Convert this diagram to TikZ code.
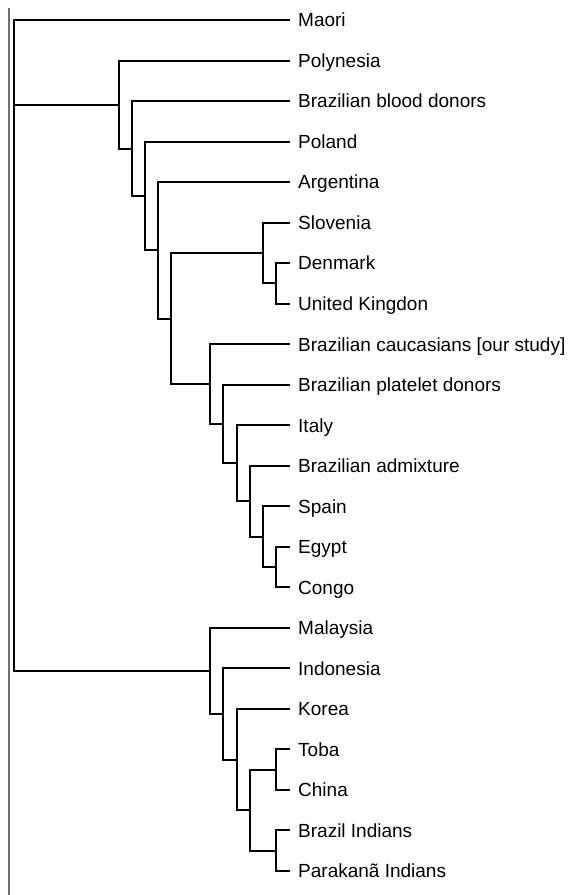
\documentclass[tikz,border=0pt]{standalone}
\usepackage{fontspec}
\setmainfont{Liberation Sans}
\begin{document}
\begin{tikzpicture}[x=1pt,y=-1pt,
  leaf/.style={anchor=west,inner xsep=8pt,inner ysep=0pt,text height=13.6pt,text depth=0pt,font=\fontsize{19}{22}\selectfont},
  branch/.style={draw=black,line width=2pt,line join=miter},
  frame/.style={draw={rgb,255:red,112;green,112;blue,112},line width=2pt}]
\useasboundingbox (0,0) rectangle (570,895);
% left rule
\coordinate (ruletop) at (9,8);
\coordinate (rulebot) at (9,895);
\draw[frame] (ruletop) -- (rulebot);
% leaves
\node[leaf] (maori) at (290,20) {Maori};
\node[leaf] (poly) at (290,60.5) {Polynesia};
\node[leaf] (bbd) at (290,101) {Brazilian blood donors};
\node[leaf] (poland) at (290,141.6) {Poland};
\node[leaf] (arg) at (290,182.1) {Argentina};
\node[leaf] (slo) at (290,222.6) {Slovenia};
\node[leaf] (den) at (290,263.1) {Denmark};
\node[leaf] (uk) at (290,303.6) {United Kingdon};
\node[leaf] (bc) at (290,344.2) {Brazilian caucasians [our study]};
\node[leaf] (bpd) at (290,384.7) {Brazilian platelet donors};
\node[leaf] (italy) at (290,425.2) {Italy};
\node[leaf] (ba) at (290,465.7) {Brazilian admixture};
\node[leaf] (spain) at (290,506.2) {Spain};
\node[leaf] (egypt) at (290,546.8) {Egypt};
\node[leaf] (congo) at (290,587.3) {Congo};
\node[leaf] (malay) at (290,627.8) {Malaysia};
\node[leaf] (indo) at (290,668.3) {Indonesia};
\node[leaf] (korea) at (290,708.8) {Korea};
\node[leaf] (toba) at (290,749.4) {Toba};
\node[leaf] (china) at (290,789.9) {China};
\node[leaf] (bi) at (290,830.4) {Brazil Indians};
\node[leaf] (para) at (290,870.9) {Parakanã Indians};
% internal nodes
\coordinate (root) at (13.7,104.5);
\coordinate (A) at (119,104.5);
\coordinate (B) at (132,148.5);
\coordinate (C) at (145,196);
\coordinate (D) at (158,250.3);
\coordinate (E) at (171,318.5);
\coordinate (F) at (263,253);
\coordinate (G) at (276,283.4);
\coordinate (H) at (210,384.1);
\coordinate (I) at (223,424);
\coordinate (J) at (237,463.2);
\coordinate (K) at (250,501.2);
\coordinate (L) at (263,536.6);
\coordinate (M) at (276,567);
\coordinate (N) at (210,670.9);
\coordinate (O) at (223,713.9);
\coordinate (P) at (237,759.5);
\coordinate (Q) at (250,810.2);
\coordinate (R) at (276,769.7);
\coordinate (S) at (276,850.7);
% branches
\draw[branch] (root) |- (maori.west);
\draw[branch] (root) |- (A);
\draw[branch] (root) |- (N);
\draw[branch] (A) |- (poly.west);
\draw[branch] (A) |- (B);
\draw[branch] (B) |- (bbd.west);
\draw[branch] (B) |- (C);
\draw[branch] (C) |- (poland.west);
\draw[branch] (C) |- (D);
\draw[branch] (D) |- (arg.west);
\draw[branch] (D) |- (E);
\draw[branch] (E) |- (F);
\draw[branch] (E) |- (H);
\draw[branch] (F) |- (slo.west);
\draw[branch] (F) |- (G);
\draw[branch] (G) |- (den.west);
\draw[branch] (G) |- (uk.west);
\draw[branch] (H) |- (bc.west);
\draw[branch] (H) |- (I);
\draw[branch] (I) |- (bpd.west);
\draw[branch] (I) |- (J);
\draw[branch] (J) |- (italy.west);
\draw[branch] (J) |- (K);
\draw[branch] (K) |- (ba.west);
\draw[branch] (K) |- (L);
\draw[branch] (L) |- (spain.west);
\draw[branch] (L) |- (M);
\draw[branch] (M) |- (egypt.west);
\draw[branch] (M) |- (congo.west);
\draw[branch] (N) |- (malay.west);
\draw[branch] (N) |- (O);
\draw[branch] (O) |- (indo.west);
\draw[branch] (O) |- (P);
\draw[branch] (P) |- (korea.west);
\draw[branch] (P) |- (Q);
\draw[branch] (Q) |- (R);
\draw[branch] (Q) |- (S);
\draw[branch] (R) |- (toba.west);
\draw[branch] (R) |- (china.west);
\draw[branch] (S) |- (bi.west);
\draw[branch] (S) |- (para.west);
\end{tikzpicture}
\end{document}
